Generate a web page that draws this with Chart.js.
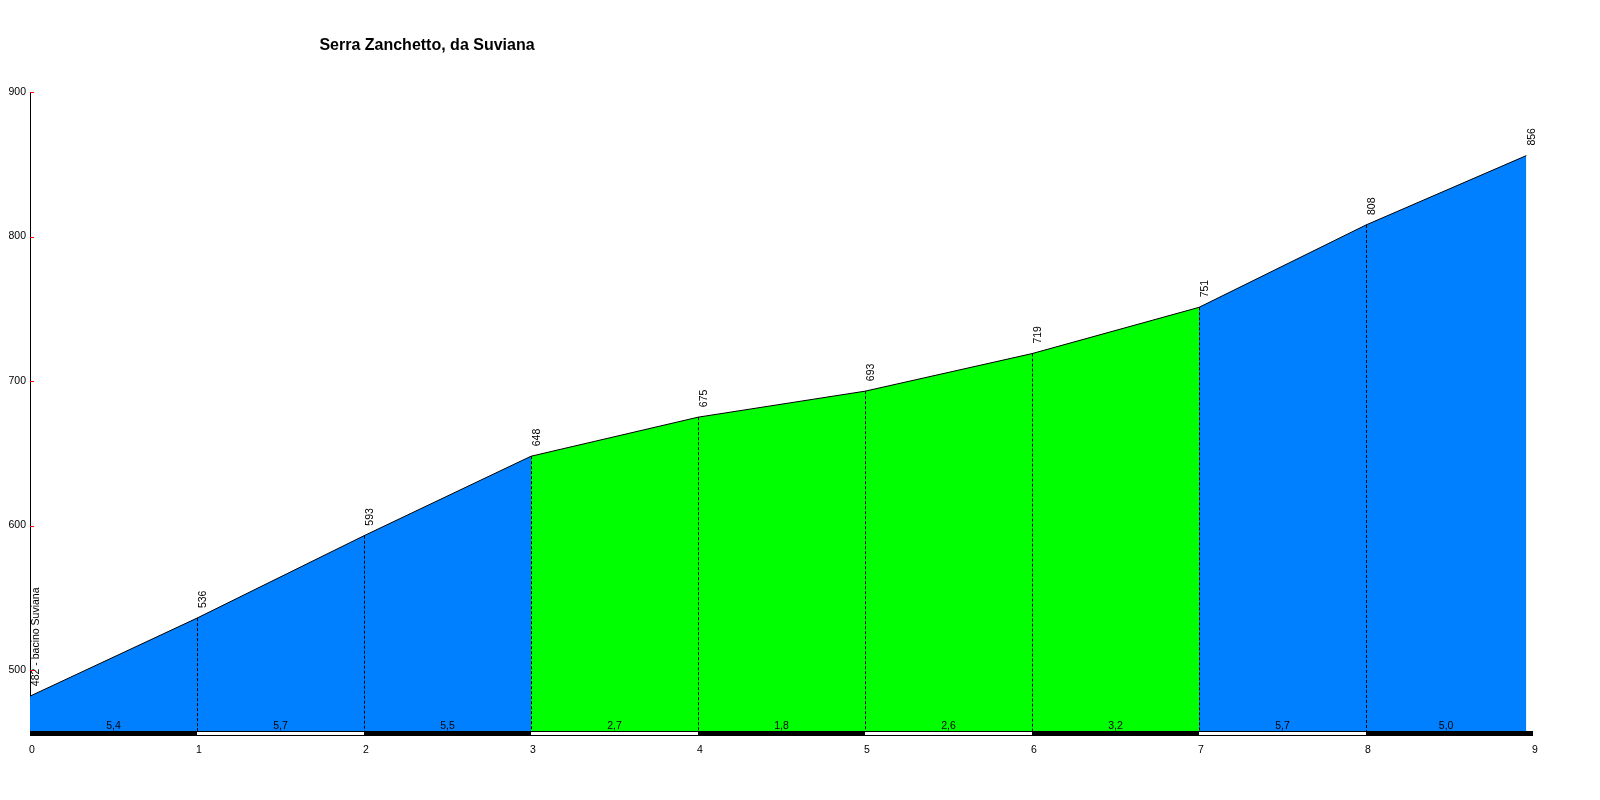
<!DOCTYPE html>
<html><head><meta charset="utf-8">
<script src="https://cdn.jsdelivr.net/npm/chart.js@4"></script>
<style>html,body{margin:0;padding:0;background:#fff}</style>
</head><body>
<canvas id="c" width="1600" height="800"></canvas>
<script>
const chartTitle = 'Serra Zanchetto, da Suviana';
const distanceKm = [0, 1, 2, 3, 4, 5, 6, 7, 8, 8.96];
const elevation = [482, 536, 593, 648, 675, 693, 719, 751, 808, 856];
const pointLabels = ['482 - bacino Suviana', '536', '593', '648', '675', '693', '719', '751', '808', '856'];
const gradeLabels = ['5,4', '5,7', '5,5', '2,7', '1,8', '2,6', '3,2', '5,7', '5,0'];
const segmentColors = ['#0080FF', '#0080FF', '#0080FF', '#00FF00', '#00FF00', '#00FF00', '#00FF00', '#0080FF', '#0080FF'];
const kmTicks = [0, 1, 2, 3, 4, 5, 6, 7, 8, 9];
const elevationTicks = [500, 600, 700, 800, 900];

const FONT = '"Liberation Sans", Arial, sans-serif';

const overlay = {
  id: 'overlay',
  afterDatasetsDraw(chart) {
    const { ctx, chartArea: ca, scales: { x, y } } = chart;
    ctx.save();
    // dashed verticals
    ctx.strokeStyle = '#000';
    ctx.lineWidth = 1;
    ctx.setLineDash([3, 2]);
    for (let i = 1; i < distanceKm.length - 1; i++) {
      const px = Math.round(x.getPixelForValue(distanceKm[i])) + 0.5;
      ctx.beginPath();
      ctx.moveTo(px, y.getPixelForValue(elevation[i]));
      ctx.lineTo(px, ca.bottom);
      ctx.stroke();
    }
    ctx.setLineDash([]);
    // km bar
    const top = Math.round(ca.bottom) - 2, h = 5;
    for (let i = 0; i < kmTicks.length - 1; i++) {
      const x0 = Math.round(x.getPixelForValue(kmTicks[i]));
      const x1 = Math.round(x.getPixelForValue(kmTicks[i + 1]));
      ctx.fillStyle = '#000';
      ctx.fillRect(x0, top, x1 - x0, h);
      if (i % 2 === 1) {
        ctx.fillStyle = '#fff';
        ctx.fillRect(x0, top + 1, x1 - x0, h - 2);
      }
    }
    // grade labels
    ctx.fillStyle = '#000';
    ctx.font = '10.5px ' + FONT;
    ctx.textAlign = 'center';
    ctx.textBaseline = 'bottom';
    for (let i = 0; i < gradeLabels.length; i++) {
      const mx = (x.getPixelForValue(distanceKm[i]) + x.getPixelForValue(distanceKm[i + 1])) / 2;
      ctx.fillText(gradeLabels[i], mx, top);
    }
    // point labels rotated
    ctx.textAlign = 'left';
    ctx.textBaseline = 'middle';
    for (let i = 0; i < pointLabels.length; i++) {
      const px = x.getPixelForValue(distanceKm[i]);
      const py = y.getPixelForValue(elevation[i]);
      ctx.save();
      ctx.translate(px + 6, py - 10);
      ctx.rotate(-Math.PI / 2);
      ctx.fillText(pointLabels[i], 0, 0);
      ctx.restore();
    }
    // red y ticks
    ctx.strokeStyle = '#ff0000';
    for (const v of elevationTicks) {
      const py = Math.round(y.getPixelForValue(v)) + 0.5;
      ctx.beginPath();
      ctx.moveTo(ca.left, py);
      ctx.lineTo(ca.left + 4, py);
      ctx.stroke();
    }
    // title
    ctx.fillStyle = '#000';
    ctx.font = 'bold 16px ' + FONT;
    ctx.textAlign = 'center';
    ctx.textBaseline = 'middle';
    ctx.fillText(chartTitle, 427, 46);
    ctx.restore();
  }
};

new Chart(document.getElementById('c'), {
  type: 'line',
  data: {
    datasets: [{
      data: distanceKm.map((d, i) => ({ x: d, y: elevation[i] })),
      borderColor: '#000',
      borderWidth: 1,
      backgroundColor: segmentColors[0],
      fill: 'start',
      pointRadius: 0,
      tension: 0,
      segment: {
        backgroundColor: c => segmentColors[c.p0DataIndex]
      }
    }]
  },
  options: {
    responsive: false,
    devicePixelRatio: 1,
    animation: false,
    layout: { padding: { top: 92, right: 67, left: 0, bottom: 0 } },
    plugins: { legend: { display: false }, tooltip: { enabled: false }, title: { display: false } },
    scales: {
      x: {
        type: 'linear',
        min: 0, max: 9,
        afterFit: s => { s.height = 67; },
        afterBuildTicks: s => { s.ticks = kmTicks.map(v => ({ value: v })); },
        grid: { display: false, drawTicks: false },
        border: { display: false },
        ticks: { color: '#000', font: { size: 10.5, family: FONT }, padding: 11, labelOffset: 2, maxRotation: 0, callback: v => String(v) }
      },
      y: {
        type: 'linear',
        min: 456.5, max: 900,
        z: 1,
        afterFit: s => { s.width = 30; },
        afterBuildTicks: s => { s.ticks = elevationTicks.map(v => ({ value: v })); },
        grid: { display: false, drawTicks: false },
        border: { display: true, color: '#000', width: 1 },
        ticks: { color: '#000', font: { size: 10.5, family: FONT }, padding: 4, callback: v => String(v) }
      }
    }
  },
  plugins: [overlay]
});
</script>
</body></html>
